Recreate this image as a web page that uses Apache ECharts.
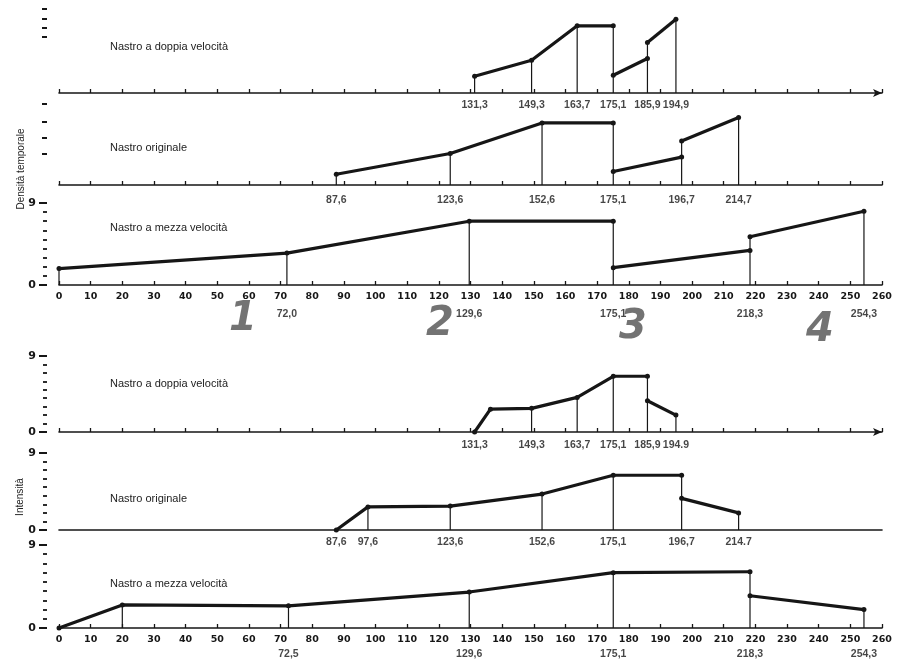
<!DOCTYPE html>
<html>
<head>
<meta charset="utf-8">
<script src="https://cdn.jsdelivr.net/npm/echarts@6.0.0/dist/echarts.min.js"></script>
<style>
  html, body { margin: 0; background: #fff; }
  #chart { width: 898px; height: 668px; }
</style>
</head>
<body>
<div id="chart"></div>
<script>
// x tick labels (seconds)
const xTickLabels = [0, 10, 20, 30, 40, 50, 60, 70, 80, 90, 100, 110, 120, 130, 140, 150, 160, 170, 180, 190, 200, 210, 220, 230, 240, 250, 260];

// --- Densità temporale ---
const densDoppia = [
  [[131.3, 1.8], [149.3, 3.5], [163.7, 7.2], [175.1, 7.2]],
  [[175.1, 1.9], [185.9, 3.7]],
  [[185.9, 5.4], [194.9, 7.9]]
];
const densDoppiaAt = [131.3, 149.3, 163.7, 175.1, 185.9, 194.9];
const densDoppiaLab = ['131,3', '149,3', '163,7', '175,1', '185,9', '194,9'];

const densOrig = [
  [[87.6, 1.2], [123.6, 3.5], [152.6, 6.9], [175.1, 6.9]],
  [[175.1, 1.5], [196.7, 3.1]],
  [[196.7, 4.9], [214.7, 7.5]]
];
const densOrigAt = [87.6, 123.6, 152.6, 175.1, 196.7, 214.7];
const densOrigLab = ['87,6', '123,6', '152,6', '175,1', '196,7', '214,7'];

const densMezza = [
  [[0, 1.8], [72.0, 3.5], [129.6, 7.0], [175.1, 7.0]],
  [[175.1, 1.9], [218.3, 3.8]],
  [[218.3, 5.3], [254.3, 8.1]]
];
const densMezzaAt = [0, 72.0, 129.6, 175.1, 218.3, 254.3];
const densMezzaLab = ['', '72,0', '129,6', '175,1', '218,3', '254,3'];

// --- Intensità ---
const intDoppia = [
  [[131.3, 0], [136.3, 2.7], [149.3, 2.8], [163.7, 4.1], [175.1, 6.6], [185.9, 6.6]],
  [[185.9, 3.7], [194.9, 2.0]]
];
const intDoppiaAt = [131.3, 149.3, 163.7, 175.1, 185.9, 194.9];
const intDoppiaLab = ['131,3', '149,3', '163,7', '175,1', '185,9', '194.9'];

const intOrig = [
  [[87.6, 0], [97.6, 2.7], [123.6, 2.8], [152.6, 4.2], [175.1, 6.4], [196.7, 6.4]],
  [[196.7, 3.7], [214.7, 2.0]]
];
const intOrigAt = [87.6, 97.6, 123.6, 152.6, 175.1, 196.7, 214.7];
const intOrigLab = ['87,6', '97,6', '123,6', '152,6', '175,1', '196,7', '214.7'];

const intMezza = [
  [[0, 0], [20, 2.5], [72.5, 2.4], [129.6, 3.9], [175.1, 6.0], [218.3, 6.1]],
  [[218.3, 3.5], [254.3, 2.0]]
];
const intMezzaAt = [20, 72.5, 129.6, 175.1, 218.3, 254.3];
const intMezzaLab = ['', '72,5', '129,6', '175,1', '218,3', '254,3'];

// y tick values for the two upper panels (only partial marks in the original)
const densDoppiaYTicks = [6, 7, 8, 9];
const densOrigYTicks = [3.5, 5.3, 7, 9];

const panelTitles = ['Nastro a doppia velocità', 'Nastro originale', 'Nastro a mezza velocità',
  'Nastro a doppia velocità', 'Nastro originale', 'Nastro a mezza velocità'];

const ink = '#161616';
const panels = [
  { segs: densDoppia, at: densDoppiaAt, lab: densDoppiaLab, top: 9, h: 84, yTicks: densDoppiaYTicks, xLabels: false, xTicks: true, arrow: true, labDist: 6, titleY: 48 },
  { segs: densOrig, at: densOrigAt, lab: densOrigLab, top: 104, h: 81, yTicks: densOrigYTicks, xLabels: false, xTicks: true, arrow: false, labDist: 9, titleY: 149 },
  { segs: densMezza, at: densMezzaAt, lab: densMezzaLab, top: 203, h: 82, yTicks: null, xLabels: true, xTicks: true, arrow: false, labDist: 23, titleY: 229 },
  { segs: intDoppia, at: intDoppiaAt, lab: intDoppiaLab, top: 356, h: 76, yTicks: null, xLabels: false, xTicks: true, arrow: true, labDist: 7, titleY: 385 },
  { segs: intOrig, at: intOrigAt, lab: intOrigLab, top: 453, h: 77, yTicks: null, xLabels: false, xTicks: false, arrow: false, labDist: 6, titleY: 500 },
  { segs: intMezza, at: intMezzaAt, lab: intMezzaLab, top: 545, h: 83, yTicks: null, xLabels: true, xTicks: true, arrow: false, labDist: 20, titleY: 585 }
];

const grid = [], xAxis = [], yAxis = [], series = [], graphic = [];

panels.forEach((p, i) => {
  const gMain = 2 * i, gScale = 2 * i + 1;
  // main plotting grid
  grid.push({ left: 59, right: 16, top: p.top, height: p.h });
  // narrow grid that only carries the detached y scale
  grid.push({ left: 47, width: 1, top: p.top, height: p.h });

  xAxis.push({
    type: 'value', gridIndex: gMain, min: 0, max: 260, interval: 10,
    axisLine: { show: true, onZero: false, lineStyle: { color: ink, width: 1.6 },
      symbol: p.arrow ? ['none', 'arrow'] : 'none', symbolSize: [6, 9] },
    axisTick: { show: p.xTicks, inside: true, length: 4, lineStyle: { color: ink, width: 1.3 } },
    axisLabel: {
      show: p.xLabels, margin: 7, color: ink, fontFamily: 'DejaVu Sans', fontWeight: 'bold', fontSize: 9.5,
      formatter: v => (xTickLabels.indexOf(v) >= 0 ? String(v) : '')
    },
    splitLine: { show: false }
  });
  xAxis.push({ type: 'value', gridIndex: gScale, min: 0, max: 1, show: false });

  yAxis.push({ type: 'value', gridIndex: gMain, min: 0, max: 9, interval: 9, show: false });

  const y = {
    type: 'value', gridIndex: gScale, min: 0, max: 9, interval: 9,
    axisLine: { show: false },
    splitLine: { show: false }
  };
  if (p.yTicks) {
    y.axisTick = { show: true, length: 5, customValues: p.yTicks, lineStyle: { color: ink, width: 2 } };
    y.axisLabel = { show: false };
  } else {
    y.axisTick = { show: true, length: 8, lineStyle: { color: ink, width: 2 } };
    y.minorTick = { show: true, splitNumber: 9, length: 4, lineStyle: { color: ink, width: 1.8 } };
    y.axisLabel = { show: true, margin: 11, color: ink, fontFamily: 'DejaVu Sans', fontWeight: 'bold', fontSize: 11 };
  }
  yAxis.push(y);

  // thin verticals at every marked abscissa, up to the highest point there
  p.at.forEach(x => {
    let hMax = 0;
    p.segs.forEach(s => s.forEach(pt => { if (Math.abs(pt[0] - x) < 1e-6) hMax = Math.max(hMax, pt[1]); }));
    if (hMax > 0) {
      series.push({
        type: 'line', xAxisIndex: gMain, yAxisIndex: gMain, data: [[x, 0], [x, hMax]],
        symbol: 'none', lineStyle: { color: ink, width: 1.2 }, silent: true, z: 2
      });
    }
  });

  // thick polyline segments
  p.segs.forEach(s => {
    series.push({
      type: 'line', xAxisIndex: gMain, yAxisIndex: gMain, data: s,
      symbol: 'circle', symbolSize: 5, showSymbol: true,
      itemStyle: { color: ink }, lineStyle: { color: ink, width: 3.2 }, z: 3
    });
  });

  // breakpoint labels under the axis
  series.push({
    type: 'scatter', xAxisIndex: gMain, yAxisIndex: gMain, clip: false, symbolSize: 1,
    itemStyle: { color: 'rgba(0,0,0,0)' },
    data: p.at.map((x, k) => ({ value: [x, 0], name: p.lab[k] })),
    label: {
      show: true, position: 'bottom', distance: p.labDist, formatter: '{b}',
      color: ink, fontFamily: 'Liberation Sans', fontWeight: 'bold', fontSize: 10.5
    },
    silent: true, z: 4
  });

  graphic.push({
    type: 'text', left: 110, top: p.titleY - 7,
    style: { text: panelTitles[i], fill: '#222', font: '11px "Liberation Sans"' }
  });
});

// axis names
graphic.push({
  type: 'text', x: 21, y: 169, rotation: Math.PI / 2,
  style: { text: 'Densità temporale', fill: '#222', font: '10px "Liberation Sans"', align: 'center', verticalAlign: 'middle' }
});
graphic.push({
  type: 'text', x: 20, y: 497, rotation: Math.PI / 2,
  style: { text: 'Intensità', fill: '#222', font: '10px "Liberation Sans"', align: 'center', verticalAlign: 'middle' }
});

// handwritten section numbers
[['1', 243, 320], ['2', 440, 325], ['3', 633, 328], ['4', 820, 331]].forEach(h => {
  graphic.push({
    type: 'text', x: h[1], y: h[2],
    style: { text: h[0], fill: 'rgba(80,80,80,0.8)', font: 'italic bold 40px "DejaVu Sans"', align: 'center', verticalAlign: 'middle' }
  });
});

const myChart = echarts.init(document.getElementById('chart'));
myChart.setOption({
  animation: false,
  backgroundColor: '#fff',
  grid, xAxis, yAxis, series, graphic
});
</script>
</body>
</html>
